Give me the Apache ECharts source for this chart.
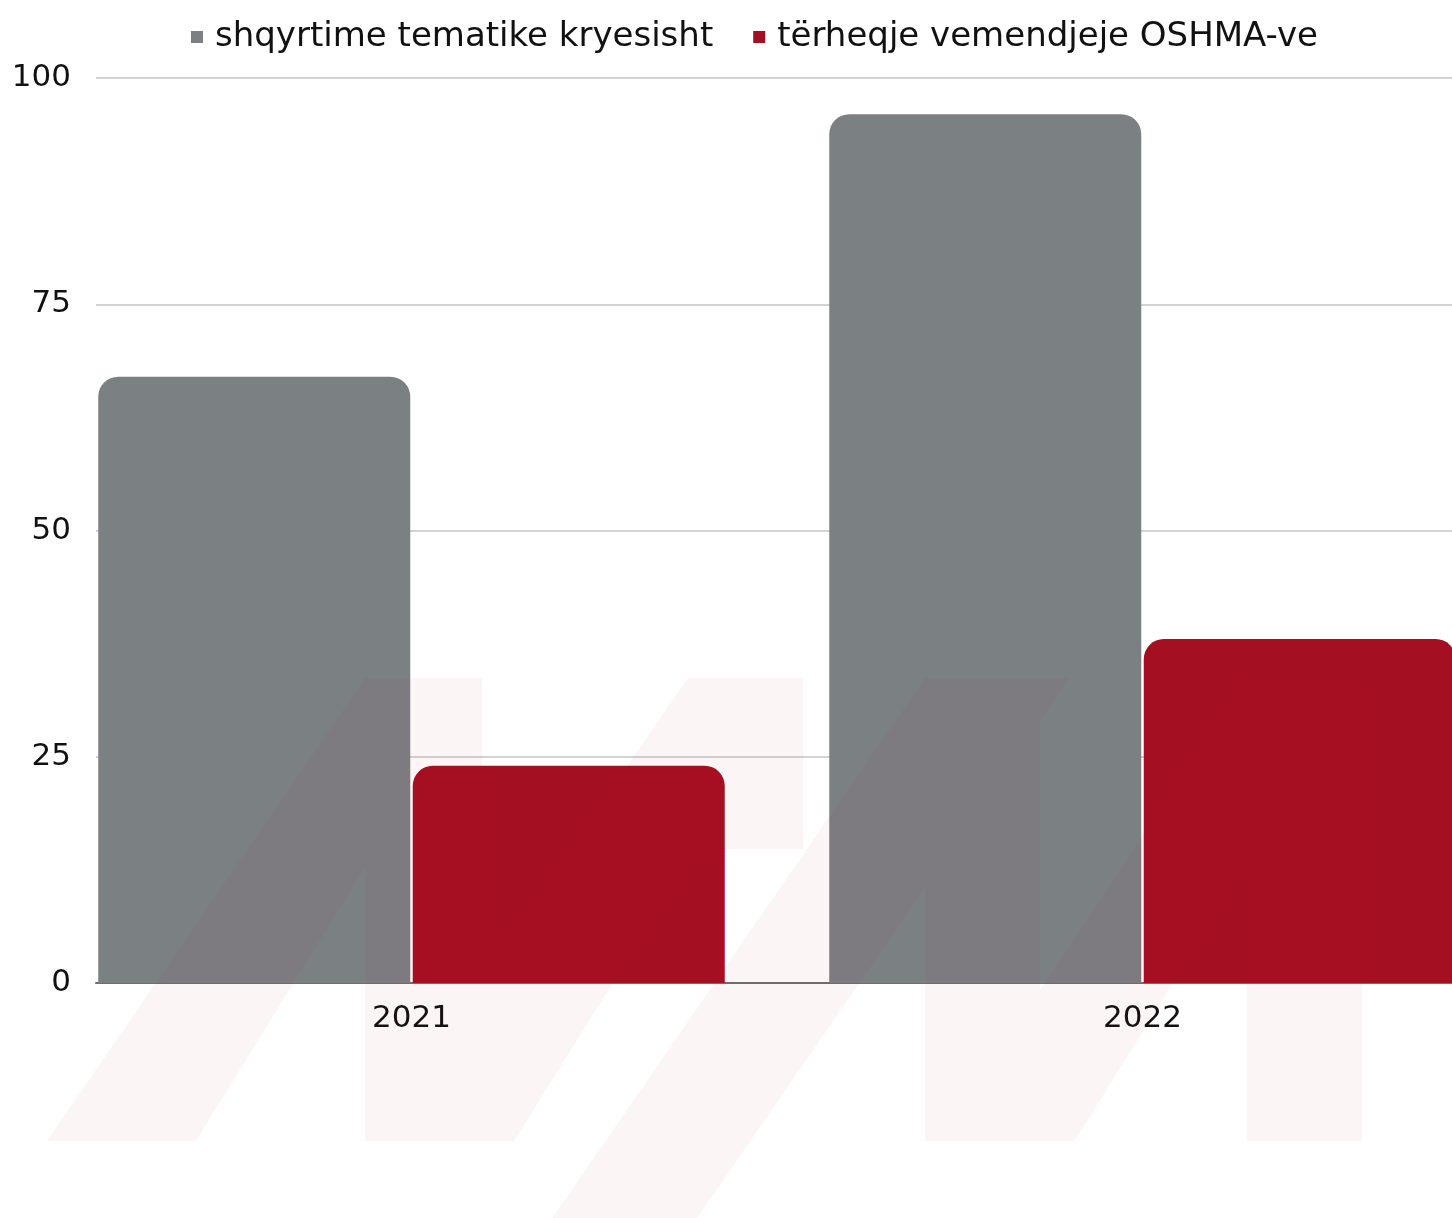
<!DOCTYPE html>
<html>
<head>
<meta charset="utf-8">
<script src="https://cdn.jsdelivr.net/npm/echarts@6/dist/echarts.min.js"></script>
<style>
  html, body { margin: 0; padding: 0; background: #fff; }
  #chart { width: 1452px; height: 1218px; }
</style>
</head>
<body>
<div id="chart"></div>
<script>
// values
var years = ['2021', '2022']
var seriesNames = ['shqyrtime tematike kryesisht', 'tërheqje vemendjeje OSHMA-ve']
var thematicReviews = [67, 96]
var attentionWithdrawals = [24, 38]
var yTicks = [0, 25, 50, 75, 100]

var colors = ['#7b8083', '#a50f22']
var fontFamily = '"DejaVu Sans", sans-serif'

// faint logo watermark: painted solid on a canvas, then laid over the chart
// with low opacity so overlapping pieces don't stack up
function makeWatermark() {
  var shapes = [
    [[47, 1141], [196, 1141], [482, 678], [365, 678]],
    [[365, 678], [482, 678], [482, 1141], [365, 1141]],
    [[368, 1141], [514, 1141], [803, 678], [688, 678]],
    [[688, 678], [803, 678], [803, 849], [688, 849]],
    [[925, 678], [1070, 678], [689, 1230], [544, 1230]],
    [[925, 678], [1040, 678], [1040, 1141], [925, 1141]],
    [[940, 1141], [1075, 1141], [1362, 678], [1247, 678]],
    [[1247, 678], [1362, 678], [1362, 1141], [1247, 1141]]
  ]
  var cv = document.createElement('canvas')
  cv.width = 1452
  cv.height = 1218
  var ctx = cv.getContext('2d')
  ctx.fillStyle = 'rgb(190, 30, 45)'
  shapes.forEach(function(pts) {
    ctx.beginPath()
    ctx.moveTo(pts[0][0], pts[0][1])
    for (var i = 1; i < pts.length; i++) ctx.lineTo(pts[i][0], pts[i][1])
    ctx.closePath()
    ctx.fill()
  })
  return cv
}

var chart = echarts.init(document.getElementById('chart'))

chart.setOption({
  backgroundColor: '#ffffff',
  animation: false,
  textStyle: { fontFamily: fontFamily },
  legend: {
    left: 186,
    top: 15,
    icon: 'rect',
    itemWidth: 12,
    itemHeight: 12,
    itemGap: 40,
    data: seriesNames,
    textStyle: {
      fontFamily: fontFamily,
      fontSize: 34,
      color: '#111',
      padding: [0, 0, 0, 7]
    }
  },
  grid: [
    // axes, gridlines
    { left: 96, right: 0, top: 78, bottom: 235, outerBoundsMode: 'none' },
    // bars: wider band, the right bar runs to the page edge
    { left: 46, width: 1462, top: 78, bottom: 235, outerBoundsMode: 'none' }
  ],
  xAxis: [
    {
      gridIndex: 0,
      type: 'value',
      min: 0,
      max: 1,
      axisLine: { show: true, onZero: false, lineStyle: { color: '#6f6f6f', width: 2 } },
      axisTick: { show: false },
      axisLabel: { show: false },
      splitLine: { show: false }
    },
    {
      gridIndex: 1,
      type: 'category',
      data: years,
      axisLine: { show: false },
      axisTick: { show: false },
      axisLabel: {
        margin: 20,
        fontFamily: fontFamily,
        fontSize: 31,
        color: '#111'
      }
    }
  ],
  yAxis: [
    {
      gridIndex: 0,
      type: 'value',
      min: yTicks[0],
      max: yTicks[yTicks.length - 1],
      interval: 25,
      axisLine: { show: false },
      axisTick: { show: false },
      axisLabel: {
        margin: 25,
        fontFamily: fontFamily,
        fontSize: 31,
        color: '#111'
      },
      splitLine: { lineStyle: { color: '#c4c4c4', width: 1.5 } }
    },
    {
      gridIndex: 1,
      type: 'value',
      min: yTicks[0],
      max: yTicks[yTicks.length - 1],
      show: false,
      splitLine: { show: false }
    }
  ],
  graphic: [{
    type: 'image',
    silent: true,
    left: 0,
    top: 0,
    z: 100,
    style: { image: makeWatermark(), width: 1452, height: 1218, opacity: 0.04 }
  }],
  series: [
    {
      name: seriesNames[0],
      type: 'bar',
      xAxisIndex: 1,
      yAxisIndex: 1,
      data: thematicReviews,
      barWidth: 312,
      barGap: '0.8%',
      itemStyle: { color: colors[0], borderRadius: [20, 20, 0, 0] }
    },
    {
      name: seriesNames[1],
      type: 'bar',
      xAxisIndex: 1,
      yAxisIndex: 1,
      data: attentionWithdrawals,
      barWidth: 312,
      barGap: '0.8%',
      itemStyle: { color: colors[1], borderRadius: [20, 20, 0, 0] }
    }
  ]
})
</script>
</body>
</html>
